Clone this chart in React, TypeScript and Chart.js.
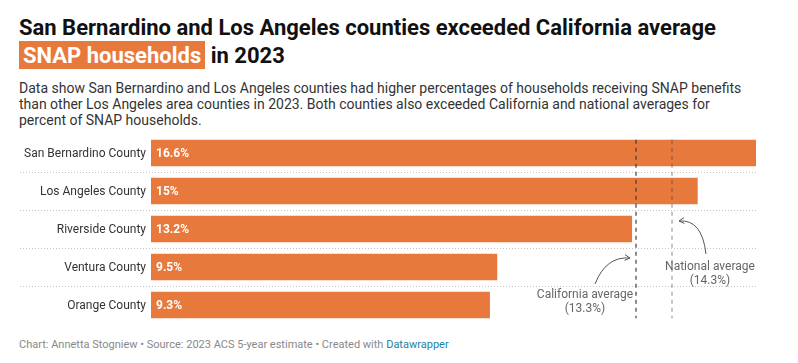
import React, { useEffect, useRef } from "react";
import { Chart, registerables } from "chart.js";
Chart.register(...registerables);

const categories = [
  "San Bernardino County",
  "Los Angeles County",
  "Riverside County",
  "Ventura County",
  "Orange County",
];
const values = [16.6, 15, 13.2, 9.5, 9.3];
const valueLabels = ["16.6%", "15%", "13.2%", "9.5%", "9.3%"];
const californiaAverage = 13.3;
const nationalAverage = 14.3;
const californiaLabel = ["California average", "(13.3%)"];
const nationalLabel = ["National average", "(14.3%)"];

const ORANGE = "#e8793d";
const FONT = "Roboto, 'Noto Sans', sans-serif";

function arrow(ctx: CanvasRenderingContext2D, x0: number, y0: number, cx: number, cy: number, x1: number, y1: number) {
  ctx.beginPath();
  ctx.moveTo(x0, y0);
  ctx.quadraticCurveTo(cx, cy, x1, y1);
  ctx.stroke();
  const ang = Math.atan2(y1 - cy, x1 - cx);
  const len = 6;
  ctx.beginPath();
  ctx.moveTo(x1 - len * Math.cos(ang - 0.5), y1 - len * Math.sin(ang - 0.5));
  ctx.lineTo(x1, y1);
  ctx.lineTo(x1 - len * Math.cos(ang + 0.5), y1 - len * Math.sin(ang + 0.5));
  ctx.stroke();
}

const overlayPlugin = {
  id: "overlay",
  beforeDatasetsDraw(chart: any) {
    const { ctx, chartArea, scales } = chart;
    const y = scales.y;
    ctx.save();
    ctx.strokeStyle = "#c4c4c4";
    ctx.lineWidth = 1;
    ctx.setLineDash([1, 2]);
    for (let i = 0; i < categories.length - 1; i++) {
      const yy = Math.round((y.getPixelForValue(i) + y.getPixelForValue(i + 1)) / 2) + 0.5;
      ctx.beginPath();
      ctx.moveTo(20, yy);
      ctx.lineTo(chartArea.right, yy);
      ctx.stroke();
    }
    ctx.setLineDash([]);
    // category labels
    ctx.font = `12px ${FONT}`;
    ctx.fillStyle = "#333333";
    ctx.textAlign = "right";
    ctx.textBaseline = "middle";
    categories.forEach((c, i) => {
      ctx.fillText(c, chartArea.left - 5, y.getPixelForValue(i) + 0.5);
    });
    ctx.restore();
  },
  afterDatasetsDraw(chart: any) {
    const { ctx, chartArea, scales } = chart;
    const x = scales.x;
    const y = scales.y;
    const meta = chart.getDatasetMeta(0);
    ctx.save();
    // value labels
    ctx.font = `bold 12px ${FONT}`;
    ctx.fillStyle = "#ffffff";
    ctx.textBaseline = "middle";
    ctx.textAlign = "left";
    meta.data.forEach((bar: any, i: number) => {
      ctx.fillText(valueLabels[i], chartArea.left + 5, bar.y + 0.5);
    });
    // reference lines
    const first = meta.data[0];
    const last = meta.data[meta.data.length - 1];
    const top = first.y - first.height / 2;
    const bottom = last.y + last.height / 2;
    const drawLine = (v: number, color: string) => {
      const px = Math.round(x.getPixelForValue(v));
      ctx.strokeStyle = color;
      ctx.lineWidth = 2;
      ctx.setLineDash([4, 4]);
      ctx.beginPath();
      ctx.moveTo(px, top);
      ctx.lineTo(px, bottom);
      ctx.stroke();
      return px;
    };
    const cx = drawLine(californiaAverage, "rgba(60,60,60,0.6)");
    const nx = drawLine(nationalAverage, "rgba(60,60,60,0.3)");
    ctx.setLineDash([]);
    // annotations
    ctx.fillStyle = "#666666";
    ctx.font = `12px ${FONT}`;
    ctx.textAlign = "center";
    ctx.textBaseline = "alphabetic";
    const yV = y.getPixelForValue(3);
    const yO = y.getPixelForValue(4);
    ctx.fillText(nationalLabel[0], nx + 38, yV + 3);
    ctx.fillText(nationalLabel[1], nx + 38, yV + 16.5);
    ctx.fillText(californiaLabel[0], cx - 51, yO - 7);
    ctx.fillText(californiaLabel[1], cx - 51, yO + 6.5);
    ctx.strokeStyle = "#555555";
    ctx.lineWidth = 1;
    arrow(ctx, nx + 34, yV - 13, nx + 30, y.getPixelForValue(2) - 10, nx + 7, y.getPixelForValue(2) - 8);
    arrow(ctx, cx - 41, yO - 21, cx - 30, yV - 11, cx - 6, yV - 9);
    ctx.restore();
  },
};

export default function App() {
  const ref = useRef<HTMLCanvasElement | null>(null);
  useEffect(() => {
    if (!ref.current) return;
    const chart = new Chart(ref.current, {
      type: "bar",
      data: {
        labels: categories,
        datasets: [
          {
            data: values,
            backgroundColor: ORANGE,
            borderWidth: 0,
            barPercentage: 0.7,
            categoryPercentage: 1,
          },
        ],
      },
      options: {
        indexAxis: "y",
        responsive: false,
        animation: false,
        devicePixelRatio: 1,
        layout: { padding: { top: 4, bottom: 6, left: 151, right: 42 } },
        plugins: { legend: { display: false }, tooltip: { enabled: false } },
        scales: {
          x: { min: 0, max: 16.6, display: false },
          y: { display: false },
        },
      },
      plugins: [overlayPlugin],
    } as any);
    return () => chart.destroy();
  }, []);

  return (
    <div
      style={{
        position: "absolute",
        left: 0,
        top: 0,
        width: 798,
        height: 363,
        background: "#fff",
        fontFamily: FONT,
        overflow: "hidden",
      }}
    >
      <div
        style={{
          position: "absolute",
          left: 19,
          top: 13.5,
          fontSize: 22,
          fontWeight: 700,
          lineHeight: "28px",
          color: "#111",
          whiteSpace: "nowrap",
        }}
      >
        San Bernardino and Los Angeles counties exceeded California average
        <br />
        <span style={{ background: ORANGE, color: "#fff", padding: "2px 4px 1px 4px" }}>SNAP households</span> in 2023
      </div>
      <div
        style={{
          position: "absolute",
          left: 19,
          top: 80,
          fontSize: 14,
          lineHeight: "16px",
          color: "#333",
          whiteSpace: "nowrap",
        }}
      >
        Data show San Bernardino and Los Angeles counties had higher percentages of households receiving SNAP benefits
        <br />
        than other Los Angeles area counties in 2023. Both counties also exceeded California and national averages for
        <br />
        percent of SNAP households.
      </div>
      <canvas ref={ref} width={798} height={200} style={{ position: "absolute", left: 0, top: 130, width: 798, height: 200 }} />
      <div
        style={{
          position: "absolute",
          left: 19,
          top: 338,
          fontSize: 11,
          color: "#888",
          whiteSpace: "nowrap",
        }}
      >
        Chart: Annetta Stogniew • Source: 2023 ACS 5-year estimate • Created with{" "}
        <span style={{ color: "#1d81a2" }}>Datawrapper</span>
      </div>
    </div>
  );
}
